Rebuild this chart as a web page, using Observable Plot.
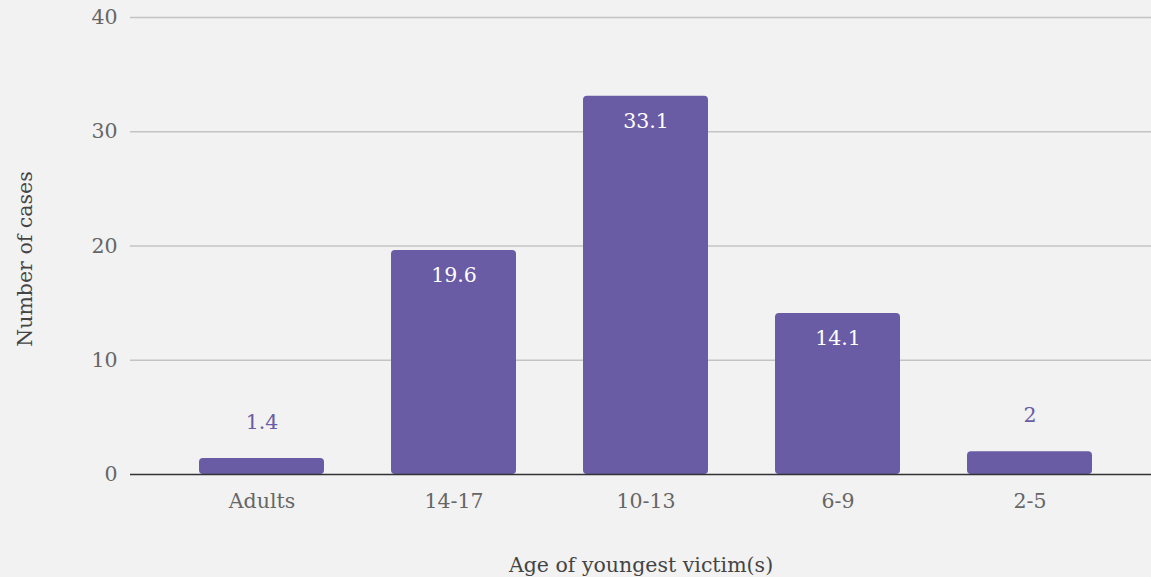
<!DOCTYPE html>
<html>
<head>
<meta charset="utf-8">
<script src="https://cdn.jsdelivr.net/npm/d3@7"></script>
<script src="https://cdn.jsdelivr.net/npm/@observablehq/plot@0.6"></script>
<style>
  html, body { margin: 0; padding: 0; background: #f2f2f2; }
  #chart { width: 1151px; height: 577px; }
  svg { display: block; }
</style>
</head>
<body>
<div id="chart"></div>
<script>
const categories = ["Adults", "14-17", "10-13", "6-9", "2-5"];
const values = [1.4, 19.6, 33.1, 14.1, 2];
const yTicks = [0, 10, 20, 30, 40];
const xTitle = "Age of youngest victim(s)";
const yTitle = "Number of cases";

const data = categories.map((c, i) => ({category: c, value: values[i]}));
const barColor = "#6a5ba5";
const font = "'DejaVu Serif', serif";
const fs = 20.5;

const chart = Plot.plot({
  width: 1151,
  height: 577,
  marginTop: 17,
  marginBottom: 103,
  marginLeft: 130,
  marginRight: 0,
  style: {background: "#f2f2f2", fontFamily: font, fontSize: fs + "px", color: "#666"},
  x: {domain: categories, paddingInner: 0.3498, paddingOuter: 0.3303, align: 0.535, label: null},
  y: {domain: [0, 40], ticks: yTicks, label: null},
  marks: [
    Plot.gridY(yTicks.filter(d => d > 0), {stroke: "#c4c4c4", strokeOpacity: 1, strokeWidth: 1.5}),
    Plot.axisY({ticks: yTicks, tickSize: 0, tickPadding: 13, fontSize: fs, fill: "#666", label: null}),
    Plot.axisX({tickSize: 0, tickPadding: 19, fontSize: fs, fill: "#666", label: null}),
    Plot.barY(data, {x: "category", y: "value", fill: barColor, rx: 4}),
    Plot.ruleY([0], {stroke: "#333", strokeWidth: 1.5}),
    Plot.text(data.filter(d => d.value >= 5), {x: "category", y: "value", text: d => String(d.value), dy: 25, fill: "white", fontSize: fs}),
    Plot.text(data.filter(d => d.value < 5), {x: "category", y: "value", text: d => String(d.value), dy: -36, fill: barColor, fontSize: fs}),
    Plot.text([xTitle], {frameAnchor: "bottom", dy: 97, fill: "#444", fontSize: fs}),
    Plot.text([yTitle], {frameAnchor: "left", textAnchor: "middle", dx: -105, dy: 13, rotate: -90, fill: "#444", fontSize: fs})
  ]
});
document.getElementById("chart").appendChild(chart);
</script>
</body>
</html>
